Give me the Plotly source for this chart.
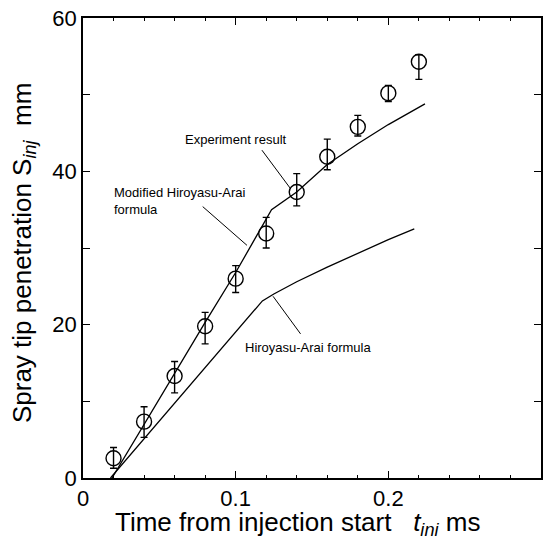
import plotly.graph_objects as go

# ---- data ----
exp_t = [0.02, 0.04, 0.06, 0.08, 0.10, 0.12, 0.14, 0.16, 0.18, 0.20, 0.22]
exp_s = [2.57, 7.35, 13.3, 19.8, 26.0, 31.9, 37.3, 41.9, 45.8, 50.2, 54.3]
exp_err_plus = [1.4, 1.95, 1.9, 1.8, 1.7, 2.1, 2.4, 2.3, 1.5, 1.0, 0.9]
exp_err_minus = [1.3, 2.05, 2.2, 2.3, 1.8, 1.9, 1.8, 1.7, 1.2, 1.1, 2.3]

mod_t = [0.019, 0.04, 0.06, 0.08, 0.10, 0.1235, 0.14, 0.16, 0.18, 0.20, 0.224]
mod_s = [0.0, 7.0, 13.6, 20.3, 26.8, 35.0, 37.3, 40.9, 43.6, 46.1, 48.8]

ha_t = [0.018, 0.06, 0.1175, 0.125, 0.14, 0.16, 0.18, 0.20, 0.217]
ha_s = [0.0, 9.7, 23.1, 24.0, 25.6, 27.5, 29.3, 31.1, 32.5]

x_tickvals = [0, 0.1, 0.2]
x_ticktext = ["0", "0.1", "0.2"]
y_tickvals = [0, 20, 40, 60]
y_ticktext = ["0", "20", "40", "60"]

x_title = "Time from injection start\u00a0\u00a0\u00a0<i>t</i><sub><i>ini</i></sub> ms"
y_title = "Spray tip penetration S<sub><i>inj</i></sub>\u00a0 mm"

# annotation texts, anchor positions and leader lines (data coords)
labels = ["Experiment result", "Modified Hiroyasu-Arai<br>formula", "Hiroyasu-Arai formula"]
label_x = [0.1000, 0.0187, 0.1050]
label_y = [44.2, 36.1, 16.96]
label_xanchor = ["center", "left", "left"]
leader_x0 = [0.1172, 0.0784, 0.1245]
leader_y0 = [42.76, 35.4, 23.7]
leader_x1 = [0.1361, 0.1074, 0.1425]
leader_y1 = [37.7, 30.35, 18.8]

FONT = "Liberation Sans, Arial, sans-serif"

fig = go.Figure()
fig.add_trace(go.Scatter(x=mod_t, y=mod_s, mode="lines",
                         line=dict(color="black", width=1.3), showlegend=False))
fig.add_trace(go.Scatter(x=ha_t, y=ha_s, mode="lines",
                         line=dict(color="black", width=1.3), showlegend=False))
fig.add_trace(go.Scatter(
    x=exp_t, y=exp_s, mode="markers",
    marker=dict(symbol="circle-open", size=15, color="black", line=dict(width=1.4, color="black")),
    error_y=dict(type="data", symmetric=False, array=exp_err_plus, arrayminus=exp_err_minus,
                 color="black", thickness=1.4, width=3.5),
    showlegend=False))

for i in range(len(labels)):
    fig.add_annotation(x=label_x[i], y=label_y[i], text=labels[i], showarrow=False,
                       xanchor=label_xanchor[i], yanchor="middle", align="left",
                       font=dict(family=FONT, size=13, color="black"))
    fig.add_shape(type="line", x0=leader_x0[i], y0=leader_y0[i], x1=leader_x1[i], y1=leader_y1[i],
                  line=dict(color="black", width=1))

# axis titles as paper-anchored annotations
fig.add_annotation(xref="paper", yref="paper", x=0.469, y=0, yshift=-45, text=x_title,
                   showarrow=False, xanchor="center", yanchor="middle",
                   font=dict(family=FONT, size=26, color="black"))
fig.add_annotation(xref="paper", yref="paper", x=0, xshift=-60, y=0.489, text=y_title,
                   textangle=-90, showarrow=False, xanchor="center", yanchor="middle",
                   font=dict(family=FONT, size=26, color="black"))

axis_common = dict(showline=True, linecolor="black", linewidth=1.5, mirror="ticks",
                   ticks="inside", tickcolor="black", showgrid=False, zeroline=False,
                   tickfont=dict(family=FONT, size=22, color="black"))

fig.update_xaxes(range=[0, 0.3], tickmode="array", tickvals=x_tickvals, ticktext=x_ticktext,
                 ticklen=7, tickwidth=1.3,
                 minor=dict(dtick=0.02, ticks="inside", ticklen=3.5, tickcolor="black", tickwidth=1.2, showgrid=False),
                 **axis_common)
fig.update_yaxes(range=[0, 60], tickmode="array", tickvals=y_tickvals, ticktext=y_ticktext,
                 ticklen=7.5, tickwidth=1.3,
                 minor=dict(dtick=10, ticks="inside", ticklen=7.5, tickcolor="black", tickwidth=1.3, showgrid=False),
                 **axis_common)

fig.update_layout(width=545, height=540, margin=dict(l=83, r=4, t=18, b=62, autoexpand=False),
                  paper_bgcolor="white", plot_bgcolor="white")

fig.write_html("out.html")
